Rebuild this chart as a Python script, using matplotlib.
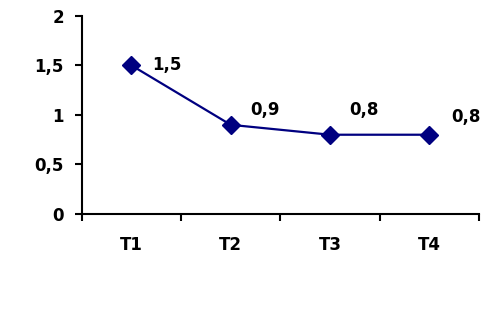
import matplotlib
matplotlib.use("Agg")
import matplotlib.pyplot as plt

categories = ["T1", "T2", "T3", "T4"]
values = [1.5, 0.9, 0.8, 0.8]
value_labels = ["1,5", "0,9", "0,8", "0,8"]
y_ticks = [0, 0.5, 1, 1.5, 2]
y_tick_labels = ["0", "0,5", "1", "1,5", "2"]

# label offsets in points (style, not data)
label_offsets = [(15, 0), (14, 11), (14, 18), (16, 13)]

plt.rcParams["font.family"] = "DejaVu Sans"
plt.rcParams["font.weight"] = "bold"

fig = plt.figure(figsize=(5.02, 3.11), dpi=100)
ax = fig.add_axes([0.163, 0.312, 0.791, 0.637])

x = list(range(len(categories)))
ax.plot(x, values, color="#000080", linewidth=1.6, marker="D", markersize=9.5,
        markerfacecolor="#000080", markeredgecolor="#000080")

for xi, v, lab, off in zip(x, values, value_labels, label_offsets):
    ax.annotate(lab, (xi, v), xytext=off, textcoords="offset points",
                ha="left", va="center", fontsize=12, fontweight="bold")

ax.set_xlim(-0.5, len(categories) - 0.5)
ax.set_ylim(0, 2)
ax.set_yticks(y_ticks)
ax.set_yticklabels(y_tick_labels, fontsize=12, fontweight="bold")
ax.set_xticks([i - 0.5 for i in range(len(categories) + 1)])
ax.set_xticklabels([])
ax.set_xticks(x, minor=True)
ax.set_xticklabels(categories, minor=True, fontsize=12, fontweight="bold")
ax.tick_params(axis="x", which="minor", length=0, pad=16)
ax.tick_params(axis="both", which="major", length=5, width=1.5, direction="out")
ax.tick_params(axis="y", pad=8)

for side in ["top", "right"]:
    ax.spines[side].set_visible(False)
for side in ["left", "bottom"]:
    ax.spines[side].set_linewidth(1.5)

fig.savefig("out.png", dpi=100)
